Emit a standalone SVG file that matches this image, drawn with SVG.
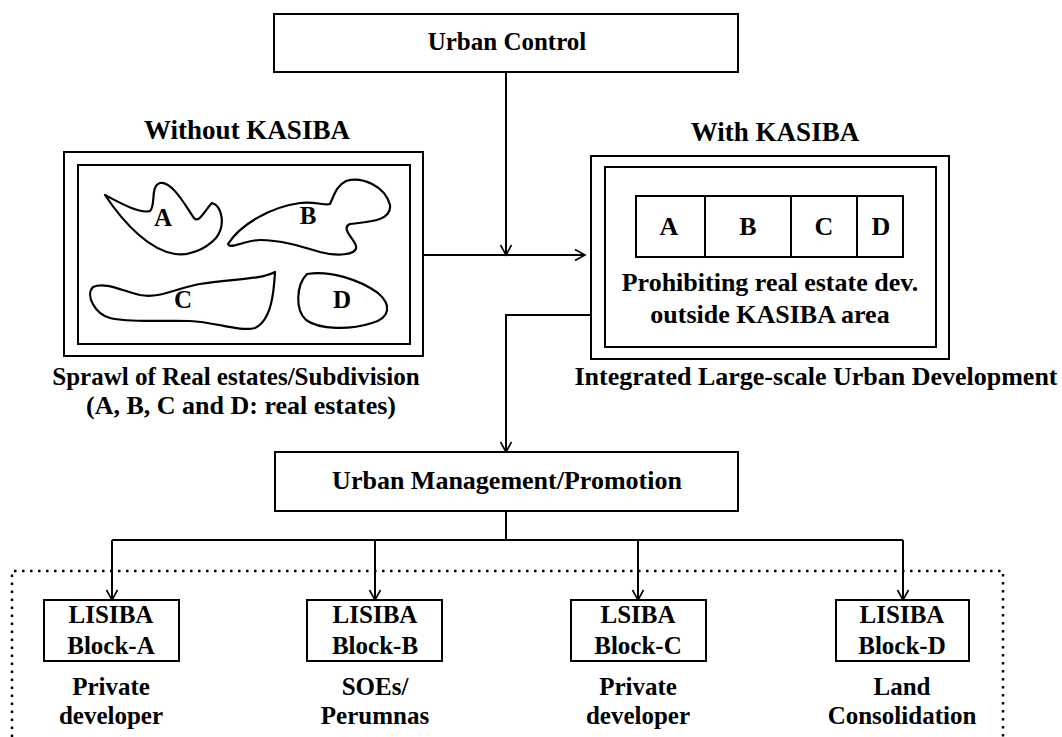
<svg xmlns="http://www.w3.org/2000/svg" width="1062" height="737" viewBox="0 0 1062 737">
  <defs>
    <marker id="arrow" markerWidth="14" markerHeight="14" refX="12" refY="7" orient="auto" markerUnits="userSpaceOnUse">
      <path d="M2,1.5 L12,7 L2,12.5" fill="none" stroke="#000" stroke-width="1.6"/>
    </marker>
    <style>
      text { font-family: "Liberation Serif", "Times New Roman", serif; font-weight: bold; font-size: 25px; fill: #000; text-anchor: middle; }
      .title { font-size: 27px; }
      .big { font-size: 26px; }
      .box { fill: #fff; stroke: #000; stroke-width: 2; }
      .frame { fill: none; stroke: #000; stroke-width: 2; }
      .blob { fill: none; stroke: #000; stroke-width: 2.2; stroke-linejoin: round; }
      .ln { fill: none; stroke: #000; stroke-width: 2; }
      .dotted { fill: none; stroke: #000; stroke-width: 2.5; stroke-dasharray: 2.5 5.5; }
    </style>
  </defs>

  <rect width="1062" height="737" fill="#fff"/>

  <!-- connectors -->
  <g id="connectors">
    <path class="ln" d="M506,73 V255" marker-end="url(#arrow)"/>
    <path class="ln" d="M423,255 H585" marker-end="url(#arrow)"/>
    <path class="ln" d="M591,315 H506 V452" marker-end="url(#arrow)"/>
    <path class="ln" d="M506,511 V540 M112,540 H903"/>
    <path class="ln" d="M112,540 V600" marker-end="url(#arrow)"/>
    <path class="ln" d="M375,540 V600" marker-end="url(#arrow)"/>
    <path class="ln" d="M638,540 V600" marker-end="url(#arrow)"/>
    <path class="ln" d="M903,540 V600" marker-end="url(#arrow)"/>
  </g>

  <!-- dotted boundary around the LISIBA blocks -->
  <path id="lisiba-area" class="dotted" d="M12,745 V571 H1003 V745"/>

  <g id="urban-control">
    <rect class="box" x="274" y="14" width="464" height="58"/>
    <text x="507" y="50">Urban Control</text>
  </g>

  <g id="without-kasiba">
    <text class="title" x="247" y="139">Without KASIBA</text>
    <rect class="frame" x="64" y="152" width="359" height="204"/>
    <rect class="frame" x="78" y="165" width="332" height="179"/>
    <path class="blob" d="M105,195 C120,203 140,214 150,211 C156,206 150,186 160,183 C172,181 185,205 194,218 C199,224 205,210 212,203 C222,206 226,225 216,238 C205,250 188,256 175,254 C150,250 125,225 105,195 Z"/>
    <path class="blob" d="M228,244 C240,225 270,207 300,203 C315,201 325,206 330,204 C334,196 336,186 346,181 C362,176 385,186 390,205 C392,222 365,222 350,224 C340,228 355,240 356,246 C358,256 335,256 320,252 C300,246 280,240 260,240 C245,240 230,250 228,244 Z"/>
    <path class="blob" d="M93,287 C105,282 120,290 140,295 C160,299 180,287 200,284 C230,279 260,280 275,272 C274,290 272,320 255,328 C240,332 215,322 190,321 C160,320 130,323 110,318 C95,314 85,295 93,287 Z"/>
    <path class="blob" d="M307,274 C330,270 360,280 378,293 C392,305 390,318 372,323 C350,330 320,330 306,320 C295,310 296,285 307,274 Z"/>
    <text x="163" y="226">A</text>
    <text x="308" y="224">B</text>
    <text x="183" y="308">C</text>
    <text x="342" y="308">D</text>
    <text x="236" y="385">Sprawl of Real estates/Subdivision</text>
    <text class="big" x="241" y="414">(A, B, C and D: real estates)</text>
  </g>

  <g id="with-kasiba">
    <text class="title" x="775" y="141">With KASIBA</text>
    <rect class="frame" x="591" y="156" width="358" height="203"/>
    <rect class="frame" x="605" y="167" width="331" height="180"/>
    <rect class="frame" x="636" y="196" width="267" height="61"/>
    <path class="ln" d="M705,196 V257 M791,196 V257 M857,196 V257"/>
    <text class="big" x="669" y="235">A</text>
    <text class="big" x="748" y="235">B</text>
    <text class="big" x="824" y="235">C</text>
    <text class="big" x="881" y="235">D</text>
    <text class="big" x="770" y="291">Prohibiting real estate dev.</text>
    <text class="big" x="770" y="323">outside KASIBA area</text>
    <text class="big" x="816" y="385">Integrated Large-scale Urban Development</text>
  </g>

  <g id="urban-management">
    <rect class="box" x="275" y="452" width="463" height="59"/>
    <text class="big" x="507" y="489">Urban Management/Promotion</text>
  </g>

  <g id="block-a">
    <rect class="box" x="44" y="600" width="135" height="61"/>
    <text x="111" y="623">LISIBA</text>
    <text x="111" y="654">Block-A</text>
    <text x="111" y="695">Private</text>
    <text x="111" y="724">developer</text>
  </g>

  <g id="block-b">
    <rect class="box" x="307" y="600" width="135" height="61"/>
    <text x="375" y="623">LISIBA</text>
    <text x="375" y="654">Block-B</text>
    <text x="375" y="695">SOEs/</text>
    <text x="375" y="724">Perumnas</text>
  </g>

  <g id="block-c">
    <rect class="box" x="571" y="600" width="135" height="61"/>
    <text x="638" y="623">LSIBA</text>
    <text x="638" y="654">Block-C</text>
    <text x="638" y="695">Private</text>
    <text x="638" y="724">developer</text>
  </g>

  <g id="block-d">
    <rect class="box" x="836" y="600" width="133" height="61"/>
    <text x="902" y="623">LISIBA</text>
    <text x="902" y="654">Block-D</text>
    <text x="902" y="695">Land</text>
    <text x="902" y="724">Consolidation</text>
  </g>
</svg>
